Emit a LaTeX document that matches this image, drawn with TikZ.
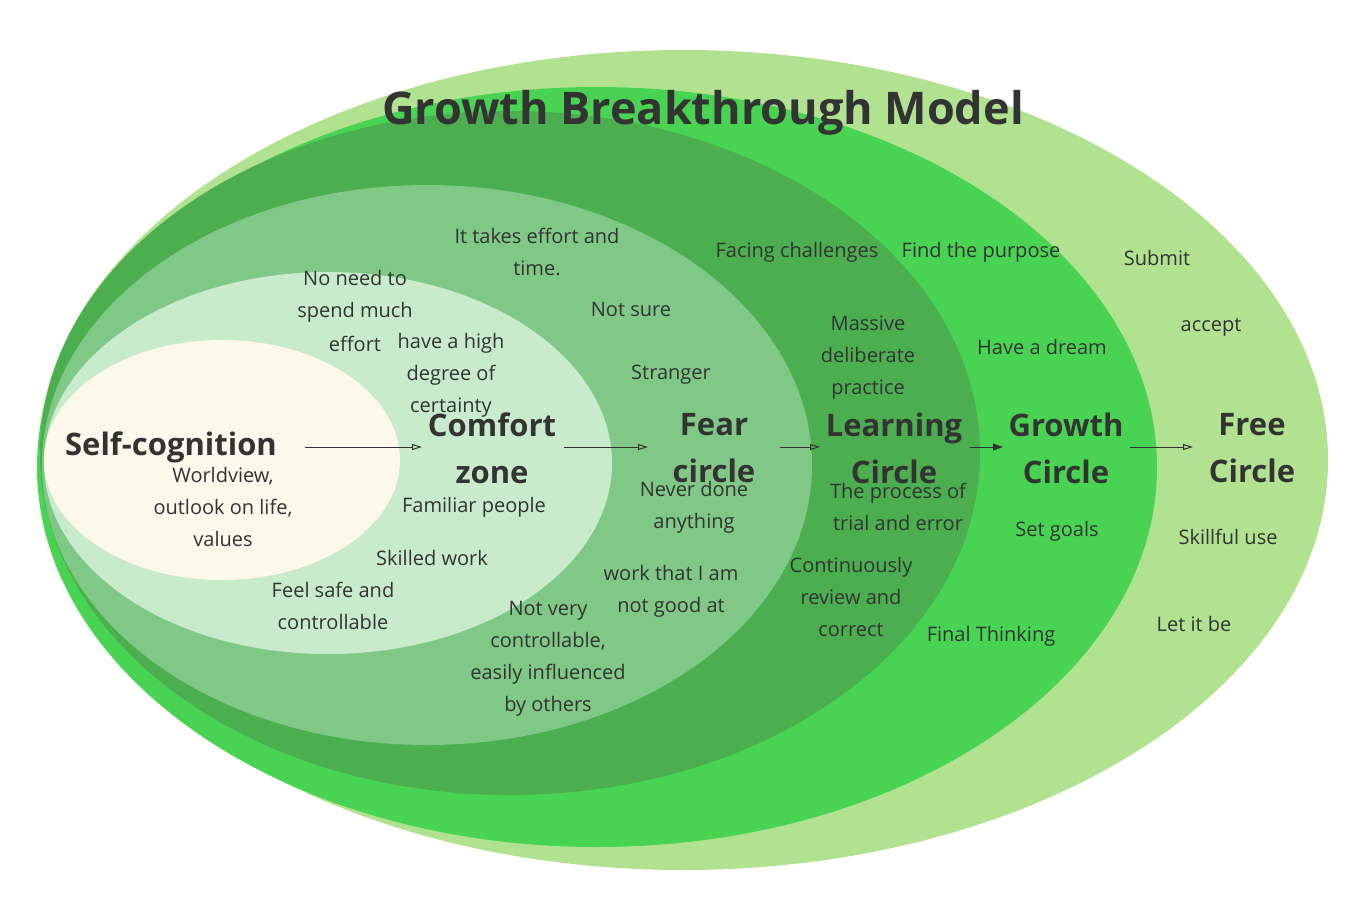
\documentclass[tikz,border=0pt]{standalone}
\usepackage{fontspec}
\setmainfont{Open Sans}
\usetikzlibrary{arrows.meta}
\definecolor{ringA}{HTML}{B0E290}
\definecolor{ringB}{HTML}{48D452}
\definecolor{ringC}{HTML}{4BAE4F}
\definecolor{ringD}{HTML}{80C886}
\definecolor{ringE}{HTML}{C8ECCB}
\definecolor{ringF}{HTML}{FCF8EA}
\definecolor{txt}{HTML}{333333}
\tikzset{
 lbl/.style={text=txt,font=\fontsize{20}{32}\selectfont,align=center,inner sep=0pt},
 big/.style={text=txt,font=\fontsize{31}{47}\selectfont\bfseries,align=center,inner sep=0pt},
 arr/.style={draw=txt,line width=1pt,-{Triangle[open,length=10pt,width=6pt]}}
}
\begin{document}
\begin{tikzpicture}[x=1pt,y=-1pt]
\useasboundingbox (0,0) rectangle (1364,908);
\fill[white] (0,0) rectangle (1364,908);
\fill[ringA] (683,460) ellipse [x radius=645,y radius=410];
\fill[ringB] (597,467) ellipse [x radius=560,y radius=380];
\fill[ringC] (510,453) ellipse [x radius=470,y radius=342];
\fill[ringD] (427,465) ellipse [x radius=385,y radius=280];
\fill[ringE] (328,463) ellipse [x radius=284,y radius=191];
\fill[ringF] (222,460) ellipse [x radius=178,y radius=120];
\node[text=txt,font=\fontsize{45}{50}\selectfont\bfseries] (title) at (703,113) {Growth Breakthrough Model};
\node[big] (self) at (171,447) {Self-cognition};
\node[big] (comf) at (492,448) {Comfort\\zone};
\node[big] (fear) at (714,448) {Fear\\circle};
\node[big] (learn) at (894,448) {Learning\\Circle};
\node[big] (grow) at (1066,448) {Growth\\Circle};
\node[big] (free) at (1252,448) {Free\\Circle};
\draw[arr] (305,447) -- (422,447);
\draw[arr] (564,447) -- (648,447);
\draw[arr] (780,447) -- (820,447);
\draw[arr,-{Triangle[length=10pt,width=7pt]}] (970,447) -- (1003,447);
\draw[arr] (1130,447) -- (1193,447);
\node[lbl] at (223,507) {Worldview,\\outlook on life,\\values};
\node[lbl] at (355,296) {No need to\\spend much};
\node[lbl] at (355,344) {effort};
\node[lbl] at (451,375) {have a high\\degree of\\certainty};
\node[lbl] at (474,507) {Familiar people};
\node[lbl] at (432,558) {Skilled work};
\node[lbl] at (333,606) {Feel safe and\\controllable};
\node[lbl] at (537,252) {It takes effort and\\time.};
\node[lbl] at (631,309) {Not sure};
\node[lbl] at (671,375) {Stranger};
\node[lbl] at (694,507) {Never done\\anything};
\node[lbl] at (671,591) {work that I am\\not good at};
\node[lbl] at (548,659) {Not very\\controllable,\\easily influenced\\by others};
\node[lbl] at (797,252) {Facing challenges};
\node[lbl] at (868,358) {Massive\\deliberate\\practice};
\node[lbl] at (898,507) {The process of\\trial and error};
\node[lbl] at (851,597) {Continuously\\review and\\correct};
\node[lbl] at (981,252) {Find the purpose};
\node[lbl] at (1042,347) {Have a dream};
\node[lbl] at (1057,531) {Set goals};
\node[lbl] at (991,636) {Final Thinking};
\node[lbl] at (1157,258) {Submit};
\node[lbl] at (1211,327) {accept};
\node[lbl] at (1228,537) {Skillful use};
\node[lbl] at (1194,624) {Let it be};
\end{tikzpicture}
\end{document}
